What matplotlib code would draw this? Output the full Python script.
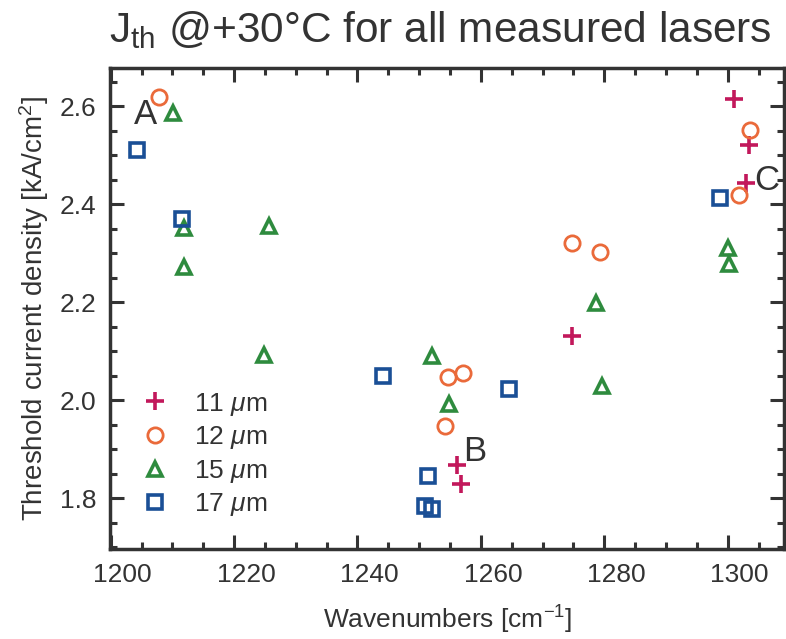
import matplotlib
matplotlib.use('Agg')
import matplotlib.pyplot as plt
from matplotlib.ticker import MultipleLocator
from matplotlib.transforms import ScaledTranslation

plt.rcParams['font.family'] = ['Liberation Sans', 'DejaVu Sans']
plt.rcParams['mathtext.fontset'] = 'custom'
plt.rcParams['mathtext.it'] = 'Liberation Sans:italic'
plt.rcParams['mathtext.rm'] = 'Liberation Sans'

# 11 um lasers
x11 = [1256.2, 1256.8, 1274.7, 1301.0, 1303.4, 1302.9]
y11 = [1.869, 1.830, 2.132, 2.615, 2.522, 2.444]
# 12 um lasers
x12 = [1207.8, 1254.7, 1257.1, 1254.2, 1274.8, 1279.3, 1303.7, 1301.8]
y12 = [2.620, 2.048, 2.056, 1.947, 2.321, 2.303, 2.552, 2.420]
# 15 um lasers
x15 = [1210.1, 1211.9, 1225.6, 1211.9, 1224.8, 1252.1, 1254.9, 1278.6, 1279.7, 1300.0, 1300.2]
y15 = [2.587, 2.352, 2.355, 2.273, 2.093, 2.090, 1.993, 2.199, 2.030, 2.311, 2.279]
# 17 um lasers
x17 = [1204.2, 1211.6, 1244.1, 1251.5, 1250.9, 1252.0, 1264.5, 1298.7]
y17 = [2.512, 2.371, 2.050, 1.845, 1.784, 1.778, 2.023, 2.414]

labels = ['11 $\\mathit{\\mu}$m', '12 $\\mathit{\\mu}$m', '15 $\\mathit{\\mu}$m', '17 $\\mathit{\\mu}$m']

ink = '#333333'
fig = plt.figure(figsize=(7.86, 6.39), dpi=100)
ax = fig.add_axes([0.140, 0.141, 0.858, 0.753])

ax.plot(x11, y11, ls='none', marker='+', ms=13, mew=2.6, color='#c2185b', label=labels[0])
ax.plot(x12, y12, ls='none', marker='o', ms=11, mew=2.0, mfc='none', color='#ea6a3a', label=labels[1])
ax.plot(x15, y15, ls='none', marker='^', ms=10, mew=2.6, mfc='none', color='#2e8b3e', label=labels[2])
ax.plot(x17, y17, ls='none', marker='s', ms=10, mew=2.6, mfc='none', color='#1a4f96', label=labels[3])

ax.text(1205.6, 2.583, 'A', fontsize=25, color=ink, ha='center', va='center')
ax.text(1259.0, 1.895, 'B', fontsize=25, color=ink, ha='center', va='center')
ax.text(1306.4, 2.448, 'C', fontsize=25, color=ink, ha='center', va='center')

ax.set_xlim(1199.9, 1309.2)
ax.set_ylim(1.697, 2.679)
ax.xaxis.set_major_locator(MultipleLocator(20))
ax.xaxis.set_minor_locator(MultipleLocator(5))
ax.yaxis.set_major_locator(MultipleLocator(0.2))
ax.yaxis.set_minor_locator(MultipleLocator(0.05))
ax.yaxis.set_major_formatter(plt.FormatStrFormatter('%.1f'))

ax.tick_params(which='both', direction='in', top=True, right=True, colors=ink, width=2.2)
ax.tick_params(which='major', length=10, labelsize=19, pad=10)
ax.tick_params(which='minor', length=5)
for s in ax.spines.values():
    s.set_linewidth(2.5)
    s.set_color(ink)

# tick labels sit a little right of the ticks in the original
for lab in ax.get_xticklabels():
    lab.set_transform(lab.get_transform() + ScaledTranslation(12 / 100, 0, fig.dpi_scale_trans))

ax.set_xlabel('Wavenumbers [cm$^{-1}$]', fontsize=19, color=ink, labelpad=12)
ax.set_ylabel('Threshold current density [kA/cm$^{2}$]', fontsize=20, color=ink, labelpad=6)
fig.text(0.56, 0.953, 'J$_{\\mathrm{th}}$ @+30°C for all measured lasers', fontsize=30.5,
         color=ink, ha='center', va='center')

ax.legend(loc='lower left', bbox_to_anchor=(0.0, 0.025), frameon=False, fontsize=19,
          labelcolor=ink, handletextpad=0.5, labelspacing=0.25, borderpad=0.2)

fig.savefig('out.png', dpi=100)
